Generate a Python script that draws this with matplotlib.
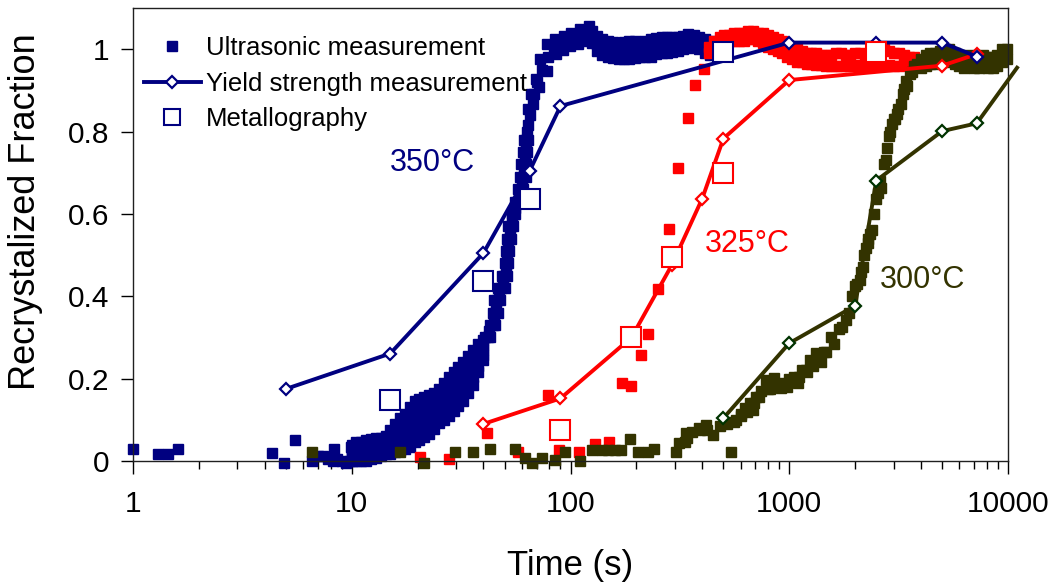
import matplotlib
matplotlib.use("Agg")
import matplotlib.pyplot as plt
from matplotlib.lines import Line2D
from matplotlib.ticker import FixedLocator, LogLocator, NullFormatter

plt.rcParams['font.family'] = ['Liberation Sans', 'DejaVu Sans']

# ---- ultrasonic measurement, 350 C (dense navy squares) ----
# scattered early points + baseline
us350_base_t = [1.0, 1.3, 1.45, 1.6, 4.3, 4.9, 5.5, 6.6, 7.0, 7.4, 7.8, 8.2, 8.6, 9.0, 9.4, 9.8, 8.3, 9.9]
us350_base_f = [0.03, 0.018, 0.018, 0.03, 0.02, -0.005, 0.05, 0.0, 0.012, 0.012, 0.005, 0.0, 0.005, 0.0,
                -0.005, 0.0, 0.03, 0.035]
# slow rise 10-40 s: five rows across the band, from top to bottom
us350_low_t = [10, 10.5, 11, 11.6, 12.2, 12.9, 13.6, 14.3, 15, 15.8, 16.6, 17.5, 18.4, 19.4, 20.4, 21.5,
               22.6, 23.8, 25, 26.3, 27.7, 29.2, 30.7, 32.3, 34, 35.8, 37.7, 39.7]
us350_low_hi = [0.04, 0.045, 0.047, 0.05, 0.053, 0.055, 0.057, 0.06, 0.075, 0.09, 0.105, 0.115, 0.13, 0.145,
                0.15, 0.155, 0.16, 0.165, 0.175, 0.19, 0.205, 0.215, 0.228, 0.24, 0.255, 0.27, 0.283, 0.295]
us350_low_q3 = [0.03, 0.033, 0.035, 0.037, 0.041, 0.043, 0.046, 0.049, 0.059, 0.07, 0.082, 0.09, 0.102,
                0.118, 0.125, 0.13, 0.135, 0.142, 0.152, 0.165, 0.18, 0.19, 0.203, 0.212, 0.229, 0.245,
                0.264, 0.282]
us350_low_mid = [0.02, 0.022, 0.024, 0.025, 0.03, 0.032, 0.035, 0.038, 0.044, 0.05, 0.058, 0.065, 0.075,
                 0.09, 0.1, 0.104, 0.11, 0.12, 0.13, 0.14, 0.155, 0.166, 0.178, 0.19, 0.208, 0.225, 0.248, 0.27]
us350_low_q1 = [0.01, 0.011, 0.012, 0.012, 0.017, 0.02, 0.023, 0.027, 0.031, 0.036, 0.042, 0.047, 0.055,
                0.067, 0.076, 0.081, 0.088, 0.099, 0.111, 0.12, 0.132, 0.144, 0.155, 0.167, 0.186, 0.205,
                0.231, 0.257]
us350_low_lo = [0.0, 0.0, 0.0, 0.0, 0.005, 0.008, 0.012, 0.016, 0.018, 0.022, 0.027, 0.03, 0.035, 0.045,
                0.052, 0.058, 0.066, 0.078, 0.093, 0.1, 0.11, 0.122, 0.133, 0.145, 0.165, 0.185, 0.215, 0.245]
# steep part: left, middle and right edge (time) at each fraction
us350_steep_f = [0.30, 0.33, 0.36, 0.39, 0.42, 0.45, 0.48, 0.51, 0.54, 0.57, 0.60, 0.63, 0.66, 0.69,
                 0.72, 0.75, 0.78]
us350_steep_left = [40.5, 43, 44, 44.5, 46.5, 48.5, 50, 50.5, 51, 52, 54, 56, 57.8, 58.5, 59.5, 60.5, 61.5]
us350_steep_mid = [41.8, 44, 45.2, 46.2, 48.2, 49.8, 51, 51.5, 52.1, 53.2, 55, 57.2, 59.1, 60.4, 61.1,
                   61.8, 62.8]
us350_steep_right = [43, 45, 46.5, 47.8, 50, 51.2, 51.9, 52.5, 53.2, 54.5, 56, 58.5, 60.5, 62.3, 62.8,
                     63.2, 64]
# the same part, readings in between
us350_steep2_f = [0.315, 0.345, 0.375, 0.405, 0.435, 0.465, 0.495, 0.525, 0.555, 0.585, 0.615, 0.645,
                  0.675, 0.705, 0.735, 0.765]
us350_steep2_t = [42.5, 44.5, 45.5, 47, 49, 50.5, 51.3, 51.8, 52.7, 54, 56, 58, 59.8, 61, 61.8, 62.5]
# knee into the plateau
us350_top_t = [63.5, 64.2, 66, 69.2, 72.9, 77.7, 85, 92.9, 100, 111, 121,
               64.2, 67.7, 72, 77.7, 86, 92, 99.5, 108, 118,
               65, 68, 70.5, 74, 79, 84, 90, 96, 104, 114]
us350_top_f = [0.80, 0.854, 0.89, 0.927, 0.976, 1.012, 1.025, 1.032, 1.04, 1.049, 1.056,
               0.817, 0.866, 0.907, 0.946, 0.988, 0.998, 1.007, 1.012, 1.02,
               0.84, 0.89, 0.92, 0.95, 0.98, 1.0, 1.012, 1.02, 1.03, 1.035]
# plateau
us350_plat_t = [125, 132, 140, 148, 157, 166, 176, 186, 197, 208, 220, 233, 247, 261, 276, 292, 309, 327,
                346, 366, 387, 410, 433]
us350_plat_hi = [1.045, 1.032, 1.025, 1.02, 1.017, 1.015, 1.017, 1.02, 1.02, 1.018, 1.02, 1.025, 1.028,
                 1.03, 1.03, 1.029, 1.03, 1.033, 1.036, 1.035, 1.03, 1.025, 1.02]
us350_plat_mid = [1.03, 1.013, 1.005, 1.0, 0.997, 0.995, 0.996, 0.998, 0.999, 0.999, 1.0, 1.003, 1.008,
                  1.01, 1.01, 1.01, 1.012, 1.016, 1.019, 1.02, 1.015, 1.008, 1.002]
us350_plat_lo = [1.015, 0.995, 0.985, 0.98, 0.978, 0.976, 0.975, 0.976, 0.978, 0.98, 0.98, 0.982, 0.988,
                 0.99, 0.99, 0.992, 0.995, 1.0, 1.002, 1.005, 1.0, 0.99, 0.985]

# ---- ultrasonic measurement, 325 C (red squares) ----
us325_rise_t = [20.5, 27.9, 41.4, 57.8, 79.3, 88.9, 109, 130, 150, 172, 190, 211, 227, 251, 281, 309, 343,
                371, 406]
us325_rise_f = [0.01, 0.004, 0.067, 0.023, 0.16, 0.027, 0.021, 0.041, 0.047, 0.189, 0.181, 0.258, 0.309,
                0.418, 0.564, 0.712, 0.832, 0.914, 0.953]
us325_plat_t = [430, 455, 480, 505, 530, 560, 590, 620, 650, 685, 720, 760, 800, 840, 885, 930, 980, 1030,
                1085, 1140, 1200, 1260, 1330, 1400, 1470, 1550, 1630, 1720, 1810, 1900, 2000, 2100, 2210,
                2330, 2450, 2580, 2720, 2860, 3010, 3170, 3340, 3520, 3700]
us325_plat_hi = [1.005, 1.02, 1.03, 1.035, 1.035, 1.04, 1.04, 1.04, 1.045, 1.045, 1.04, 1.04, 1.035, 1.03,
                 1.025, 1.02, 1.01, 1.005, 1.0, 0.995, 0.99, 0.99, 0.99, 0.985, 0.985, 0.985, 0.99, 0.99,
                 0.985, 0.985, 0.99, 0.99, 0.985, 0.985, 0.99, 0.995, 1.0, 0.995, 0.99, 0.99, 0.985, 0.98,
                 0.98]
us325_plat_lo = [0.99, 1.0, 1.01, 1.015, 1.02, 1.02, 1.02, 1.02, 1.025, 1.025, 1.02, 1.015, 1.005, 1.0,
                 0.995, 0.99, 0.98, 0.975, 0.97, 0.968, 0.965, 0.965, 0.962, 0.962, 0.96, 0.96, 0.96, 0.96,
                 0.96, 0.96, 0.962, 0.96, 0.96, 0.96, 0.962, 0.96, 0.96, 0.962, 0.96, 0.96, 0.962, 0.965,
                 0.965]

# ---- ultrasonic measurement, 300 C (dark olive squares) ----
us300_base_t = [6.55, 16.6, 21.3, 29.7, 35.7, 42.9, 55.6, 61.9, 66.5, 74, 85, 94.6, 111, 125, 139, 149,
                160, 170, 188, 204, 227, 240, 302, 540]
us300_base_f = [0.023, 0.023, -0.004, 0.023, 0.023, 0.028, 0.028, 0.007, -0.004, 0.007, 0.002, 0.023, 0.0,
                0.027, 0.027, 0.027, 0.027, 0.027, 0.053, 0.023, 0.023, 0.03, 0.023, 0.023]
us300_rise_t = [312, 334, 338, 385, 415, 450, 570, 600, 630, 660, 680, 705, 740, 780, 820, 850, 915, 975,
                1000, 1050, 1100, 1140, 1200, 1250, 1330, 1400, 1440, 1560, 1680, 1820, 1940,
                340, 360, 390, 420, 480, 520, 560, 600, 640, 690, 730, 800, 870, 950, 1020, 1110, 1190,
                1290, 1380, 1480, 1600, 1750, 1880]
us300_rise_f = [0.044, 0.047, 0.068, 0.08, 0.088, 0.063, 0.10, 0.11, 0.129, 0.14, 0.125, 0.156, 0.17,
                0.197, 0.175, 0.202, 0.178, 0.18, 0.2, 0.204, 0.19, 0.221, 0.215, 0.246, 0.263, 0.24, 0.265,
                0.30, 0.32, 0.343, 0.40,
                0.055, 0.07, 0.075, 0.075, 0.085, 0.09, 0.095, 0.115, 0.12, 0.14, 0.155, 0.175, 0.185,
                0.19, 0.195, 0.205, 0.22, 0.23, 0.25, 0.265, 0.285, 0.325, 0.36]
us300_steep_t = [2000, 2050, 2100, 2120, 2170, 2200, 2250, 2280, 2300, 2350, 2400, 2450, 2490, 2550, 2600,
                 2640, 2700, 2760, 2800, 2860, 2900, 2950, 3000, 3050, 3100, 3150, 3230, 3300, 3360, 3400,
                 3450, 3550, 3650, 3700, 3800, 3850]
us300_steep_f = [0.424, 0.43, 0.44, 0.46, 0.472, 0.5, 0.518, 0.53, 0.54, 0.55, 0.562, 0.6, 0.635, 0.65,
                 0.68, 0.664, 0.72, 0.732, 0.76, 0.788, 0.8, 0.818, 0.83, 0.83, 0.842, 0.855, 0.866, 0.89,
                 0.903, 0.922, 0.91, 0.939, 0.945, 0.959, 0.96, 0.965]
us300_plat_t = [4000, 4200, 4400, 4650, 4900, 5150, 5400, 5700, 6000, 6300, 6650, 7000, 7350, 7700, 8100,
                8500, 8950, 9400, 9850]
us300_plat_hi = [0.975, 0.985, 0.99, 0.99, 0.995, 1.0, 1.0, 0.99, 0.985, 0.98, 0.985, 0.98, 0.98, 0.985,
                 0.98, 0.98, 0.985, 1.0, 1.0]
us300_plat_lo = [0.955, 0.96, 0.965, 0.965, 0.97, 0.975, 0.97, 0.965, 0.96, 0.955, 0.96, 0.955, 0.955,
                 0.96, 0.955, 0.955, 0.96, 0.97, 0.975]

# ---- yield strength measurement (line + diamonds) ----
ys350_t = [5, 15, 40, 65, 90, 1000, 2500, 5000, 7200]
ys350_f = [0.175, 0.261, 0.505, 0.704, 0.862, 1.016, 1.016, 1.016, 0.982]
ys325_t = [40, 90, 190, 290, 400, 500, 1000, 5000, 7200]
ys325_f = [0.09, 0.152, 0.30, 0.475, 0.637, 0.783, 0.925, 0.96, 0.988]
ys300_t = [500, 1000, 2000, 2500, 5000, 7200, 11000]
ys300_f = [0.104, 0.286, 0.377, 0.681, 0.801, 0.82, 0.955]

# ---- metallography (big open squares) ----
met350_t = [15, 40, 65, 500]
met350_f = [0.148, 0.438, 0.637, 0.992]
met325_t = [90, 190, 290, 500, 2500]
met325_f = [0.075, 0.30, 0.495, 0.70, 0.992]

NAVY = '#000080'
RED = '#ff0000'
OLIVE = '#333300'

# gather the ultrasonic pieces into one (t, f) set per temperature
us350_t = (us350_base_t + us350_low_t * 5 + us350_steep_left + us350_steep_mid + us350_steep_right
           + us350_steep2_t + us350_top_t + us350_plat_t * 3)
us350_f = (us350_base_f + us350_low_hi + us350_low_q3 + us350_low_mid + us350_low_q1 + us350_low_lo
           + us350_steep_f * 3 + us350_steep2_f + us350_top_f
           + us350_plat_hi + us350_plat_mid + us350_plat_lo)
us325_t = us325_rise_t + us325_plat_t * 2
us325_f = us325_rise_f + us325_plat_hi + us325_plat_lo
us300_t = us300_base_t + us300_rise_t + us300_steep_t + us300_plat_t * 2
us300_f = us300_base_f + us300_rise_f + us300_steep_f + us300_plat_hi + us300_plat_lo

fig = plt.figure(figsize=(10.6, 5.84), dpi=100)
ax = fig.add_axes([133 / 1060, 1 - 461 / 584, 875 / 1060, 453 / 584])

# ultrasonic squares at the bottom
for t, f, c in [(us350_t, us350_f, NAVY), (us325_t, us325_f, RED), (us300_t, us300_f, OLIVE)]:
    ax.plot(t, f, ls='none', marker='s', ms=7.4, color=c, mec=c, clip_on=False, zorder=2)

# yield strength lines
ax.plot(ys300_t, ys300_f, color=OLIVE, lw=2.8, marker='D', ms=6.5, mfc='white', mec='#003300',
        mew=1.6, markevery=list(range(len(ys300_t) - 1)), clip_on=False, zorder=3)
ax.plot(ys325_t, ys325_f, color=RED, lw=2.8, marker='D', ms=6.5, mfc='white', mec=RED, mew=1.6, zorder=3)
ax.plot(ys350_t, ys350_f, color=NAVY, lw=2.8, marker='D', ms=6.5, mfc='white', mec=NAVY, mew=1.6, zorder=3)

# metallography squares on top
ax.plot(met350_t, met350_f, ls='none', marker='s', ms=14, mfc='white', mec=NAVY, mew=1.5, zorder=4)
ax.plot(met325_t, met325_f, ls='none', marker='s', ms=14, mfc='white', mec=RED, mew=1.5, zorder=4)

ax.set_xscale('log')
ax.set_xlim(1, 10000)
ax.set_ylim(0, 1.1)

ax.xaxis.set_major_locator(FixedLocator([1, 10, 100, 1000, 10000]))
ax.set_xticklabels(['1', '10', '100', '1000', '10000'])
ax.xaxis.set_minor_locator(LogLocator(base=10, subs=range(2, 10)))
ax.xaxis.set_minor_formatter(NullFormatter())
ax.set_yticks([0, 0.2, 0.4, 0.6, 0.8, 1.0])
ax.set_yticklabels(['0', '0.2', '0.4', '0.6', '0.8', '1'])

ax.tick_params(axis='both', which='major', direction='out', length=9, width=1, labelsize=21.5)
ax.tick_params(axis='x', which='minor', direction='out', length=6, width=1)
ax.tick_params(axis='x', pad=12)
ax.tick_params(axis='y', pad=8)
for s in ax.spines.values():
    s.set_linewidth(1)
    s.set_color('#202020')

ax.set_xlabel('Time (s)', fontsize=25, labelpad=22)
ax.set_ylabel('Recrystalized Fraction', fontsize=26)
ax.yaxis.set_label_coords(-0.103, 0.55)

# temperature labels
ax.text(23.4, 0.723, '350°C', color=NAVY, fontsize=22, ha='center', va='center')
ax.text(646, 0.526, '325°C', color=RED, fontsize=22, ha='center', va='center')
ax.text(4083, 0.44, '300°C', color=OLIVE, fontsize=22, ha='center', va='center')

handles = [
    Line2D([], [], ls='none', marker='s', ms=6.5, color=NAVY),
    Line2D([], [], color=NAVY, lw=2.8, marker='D', ms=6.5, mfc='white', mec=NAVY, mew=1.6),
    Line2D([], [], ls='none', marker='s', ms=11, mfc='white', mec=NAVY, mew=1.5),
]
labels = ['Ultrasonic measurement', 'Yield strength measurement', 'Metallography']
ax.legend(handles, labels, loc='upper left', bbox_to_anchor=(0.004, 0.955), frameon=False,
          fontsize=18.5, handlelength=2.2, handletextpad=0.2, labelspacing=0.45,
          borderaxespad=0, borderpad=0.3, numpoints=1)

fig.savefig('out.png', dpi=100)
